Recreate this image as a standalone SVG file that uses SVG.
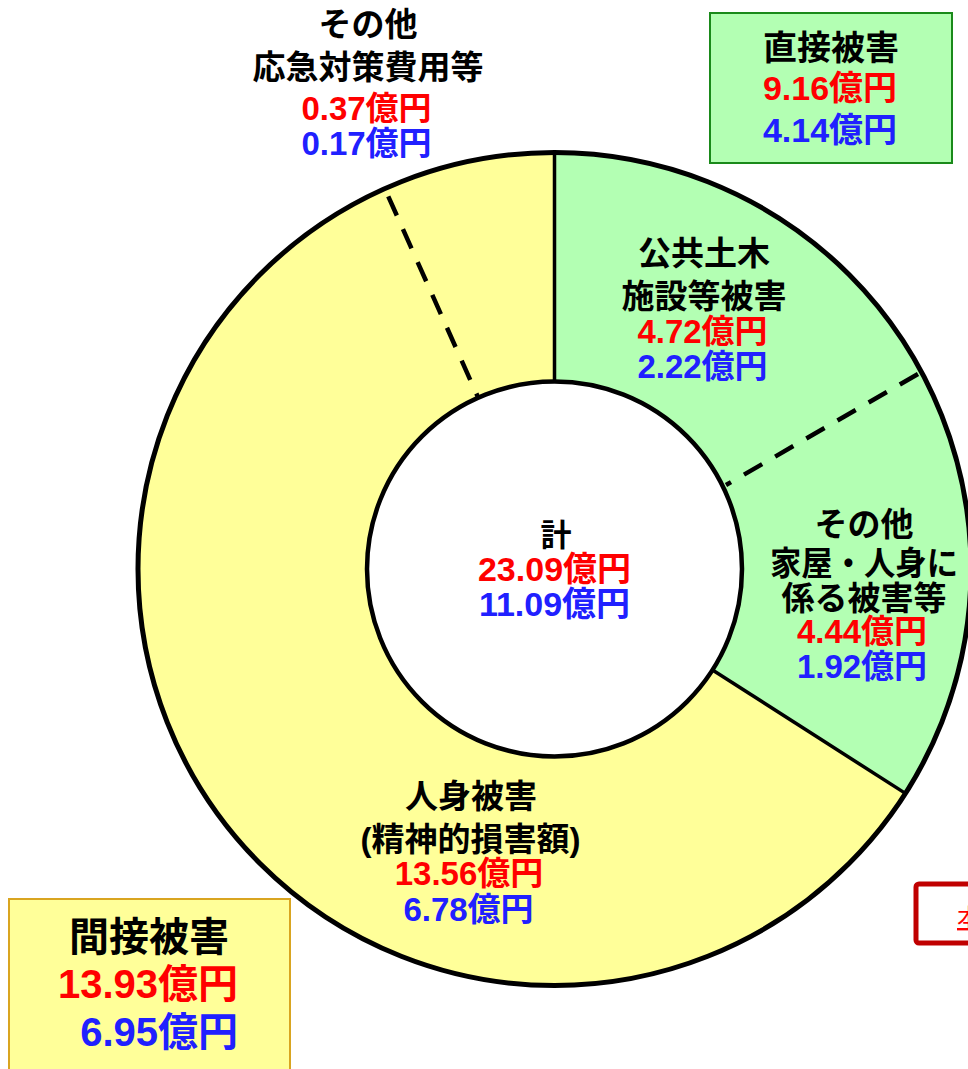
<svg xmlns="http://www.w3.org/2000/svg" width="968" height="1069" viewBox="0 0 968 1069">
<style>
text{font-family:"Liberation Sans","Noto Sans CJK JP",sans-serif;font-weight:bold;text-anchor:middle;font-size:33px}
.k{fill:#000}
.r{fill:#FF0000}
.b{fill:#2020FF}
.big{font-size:40px}
.mid{font-size:34px}
.seg{stroke:#000;fill:none}
</style>
<rect width="968" height="1069" fill="#fff"/>
<g id="donut">
<circle cx="554.5" cy="569" r="416.5" fill="#FFFF99"/>
<path d="M554.5,152.5 A416.5,416.5 0 0 1 905.4,793.4 L712.5,670 A187.5,187.5 0 0 0 554.5,381.5 Z" fill="#B3FFB3"/>
<circle cx="554.5" cy="569" r="187.5" fill="#fff"/>
</g>
<g id="connectors">
<line class="seg" x1="554.5" y1="152.5" x2="554.5" y2="381.5" stroke-width="3.5"/>
<line class="seg" x1="905.4" y1="793.4" x2="712.5" y2="670" stroke-width="3.5"/>
<line class="seg" x1="918" y1="374" x2="726" y2="485" stroke-width="4.5" stroke-dasharray="21 15"/>
<line class="seg" x1="385" y1="189" x2="478.2" y2="397.7" stroke-width="4.5" stroke-dasharray="21 15" stroke-dashoffset="28"/>
<circle class="seg" cx="554.5" cy="569" r="416.5" stroke-width="5"/>
<circle class="seg" cx="554.5" cy="569" r="187.5" stroke-width="4.5"/>
</g>
<g id="direct-box">
<rect x="710" y="13" width="242" height="150" fill="#B3FFB3" stroke="#1A8A1A" stroke-width="2"/>
<text class="k mid" x="831" y="59.5">直接被害</text>
<text class="r mid" x="830" y="100">9.16億円</text>
<text class="b mid" x="830" y="142">4.14億円</text>
</g>
<g id="indirect-box">
<rect x="9" y="899" width="281" height="185" fill="#FFFF99" stroke="#D9A520" stroke-width="2"/>
<text class="k big" x="149" y="950.5">間接被害</text>
<text class="r big" x="238" y="998" style="text-anchor:end">13.93億円</text>
<text class="b big" x="238" y="1046" style="text-anchor:end">6.95億円</text>
</g>
<g id="other-emergency">
<text class="k" x="368" y="35.5">その他</text>
<text class="k" x="368" y="79">応急対策費用等</text>
<text class="r" x="366.5" y="120">0.37億円</text>
<text class="b" x="366.5" y="154.5">0.17億円</text>
</g>
<g id="public-works">
<text class="k" x="704" y="264.5">公共土木</text>
<text class="k" x="704" y="307.5">施設等被害</text>
<text class="r" x="702.5" y="343">4.72億円</text>
<text class="b" x="702.5" y="378">2.22億円</text>
</g>
<g id="other-house">
<text class="k" x="864" y="535.5">その他</text>
<text class="k" x="864" y="574.5" textLength="188" lengthAdjust="spacingAndGlyphs">家屋・人身に</text>
<text class="k" x="864" y="609.5">係る被害等</text>
<text class="r" x="862" y="643">4.44億円</text>
<text class="b" x="862" y="678">1.92億円</text>
</g>
<g id="total">
<text class="k" x="556" y="545.5" style="font-size:31px">計</text>
<text class="r mid" x="554.5" y="581">23.09億円</text>
<text class="b mid" x="554.5" y="616">11.09億円</text>
</g>
<g id="personal">
<text class="k" x="471" y="807.5">人身被害</text>
<text class="k" x="470.5" y="850.5">(精神的損害額)</text>
<text class="r" x="469" y="885">13.56億円</text>
<text class="b" x="468.5" y="921">6.78億円</text>
</g>
<g id="link-box">
<rect x="916" y="884" width="80" height="59" rx="3" fill="#fff" stroke="#C00000" stroke-width="5"/>
<text x="957" y="926" style="text-anchor:start;font-size:24px;font-weight:normal;fill:#FF0000;text-decoration:underline">本</text>
</g>
</svg>
